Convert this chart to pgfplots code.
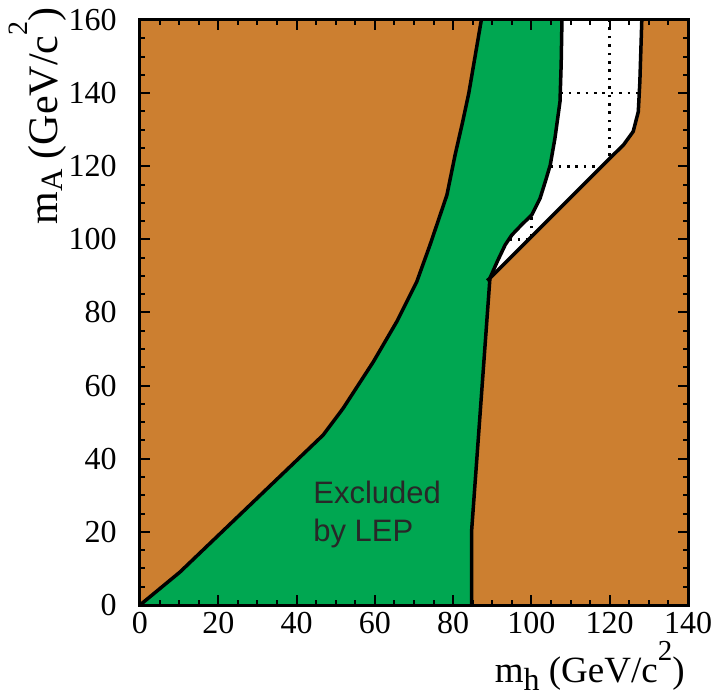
\documentclass[border=0pt]{standalone}
\usepackage{fontspec}
\setmainfont{Liberation Serif}
\newfontfamily\arialf{Liberation Sans}
\usepackage{pgfplots}
\pgfplotsset{compat=1.18}
\definecolor{orangeC}{RGB}{204,127,48}
\definecolor{greenC}{RGB}{0,167,81}
\definecolor{textgray}{RGB}{40,40,40}
\newcommand{\sx}[3]{\raisebox{#1}{\fontsize{#2}{#2}\selectfont #3}}
\begin{document}
\begin{tikzpicture}
\useasboundingbox (-70pt,-45.5pt) rectangle (289pt,302.5pt);
\begin{axis}[at={(0,0)}, anchor=south west, scale only axis,
  width=274pt, height=292.5pt,
  xmin=0, xmax=140, ymin=0, ymax=160,
  xtick={0,20,...,140}, ytick={0,20,...,160},
  minor x tick num=3, minor y tick num=3,
  tick align=inside, major tick length=5pt, minor tick length=2.5pt,
  every tick/.style={black, line width=1pt},
  axis line style={line width=1.5pt},
  axis on top,
  axis background/.style={fill=orangeC},
  tick label style={font=\fontsize{16}{19}\selectfont},
  /pgf/number format/assume math mode=true,
  yticklabel style={xshift=-8.2pt},
  label style={inner sep=0pt},
  xlabel={m\sx{-4pt}{16}{h} (GeV/c\sx{11pt}{14.5}{2})},
  ylabel={m\sx{-2.5pt}{15.5}{A} (GeV/c\sx{15pt}{14}{2})},
  xlabel style={font=\fontsize{18.5}{20}\selectfont, at={(axis description cs:0.9945,0)}, anchor=base east, yshift=-38.5pt},
  ylabel style={font=\fontsize{21}{22}\selectfont, at={(axis description cs:-0.151,1.022)}, anchor=base east},
]
% green excluded region
\addplot[fill=greenC, draw=none] coordinates {
 (0,0) (10.2,9.0) (46.8,46.5) (51.9,53.8) (59.6,66.5) (65.6,77.5) (70.7,88.4)
 (74.1,98.5) (78.4,112.1) (80.5,123.1) (82.4,132) (84,140) (85.6,150) (87.2,160)
 (107.8,160) (107.6,148) (107.3,137.7) (106.0,127.6) (104.8,120.3) (103.6,116)
 (102.2,111.2) (100.1,106.7) (97.5,104) (95.0,101.2) (93.3,98.5) (91.3,94) (89.4,89.4)
 (84.7,20) (84.7,0)} -- cycle;
% white allowed region
\addplot[fill=white, draw=none] coordinates {
 (89.4,89.4) (91.3,94) (93.3,98.5) (95.0,101.2) (97.5,104) (100.1,106.7) (102.2,111.2)
 (103.6,116) (104.8,120.3) (106.0,127.6) (107.3,137.7) (107.6,148) (107.8,160)
 (128.2,160) (127.7,143.1) (127.3,134.9) (126.0,129.5) (123.5,125.8) (120.9,123.1)} -- cycle;
% dotted grid inside white region
\addplot[black, line width=1.3pt, dash pattern=on 1.3pt off 2.9pt] coordinates {(120,122.8) (120,160)};
\addplot[black, line width=1.3pt, dash pattern=on 1.3pt off 2.9pt] coordinates {(107.4,140) (127.6,140)};
\addplot[black, line width=1.3pt, dash pattern=on 1.3pt off 2.9pt] coordinates {(104.8,120) (118.0,120)};
\addplot[black, line width=1.3pt, dash pattern=on 1.3pt off 2.9pt] coordinates {(100,100.7) (100,106.7)};
\addplot[black, line width=1.3pt, dash pattern=on 1.3pt off 2.9pt] coordinates {(94.3,100) (99.3,100)};
% boundary lines
\addplot[black, line width=1.75pt, line join=round] coordinates {
 (0,0) (10.2,9.0) (46.8,46.5) (51.9,53.8) (59.6,66.5) (65.6,77.5) (70.7,88.4)
 (74.1,98.5) (78.4,112.1) (80.5,123.1) (82.4,132) (84,140) (85.6,150) (87.2,160)};
\addplot[black, line width=1.75pt, line join=round] coordinates {
 (84.7,0) (84.7,20) (89.4,89.4) (91.3,94) (93.3,98.5) (95.0,101.2) (97.5,104) (100.1,106.7) (102.2,111.2)
 (103.6,116) (104.8,120.3) (106.0,127.6) (107.3,137.7) (107.6,148) (107.8,160)};
\addplot[black, line width=1.75pt, line join=round] coordinates {
 (88.7,88.7) (89.4,89.4) (120.9,123.1) (123.5,125.8) (126.0,129.5) (127.3,134.9) (127.7,143.1) (128.2,160)};
\node[anchor=north west, align=left, inner sep=0pt, text=textgray,
  font=\arialf\fontsize{15.5}{19}\selectfont] at (axis cs:44.2,33.9) {Excluded\\by LEP};
\end{axis}
\end{tikzpicture}
\end{document}
